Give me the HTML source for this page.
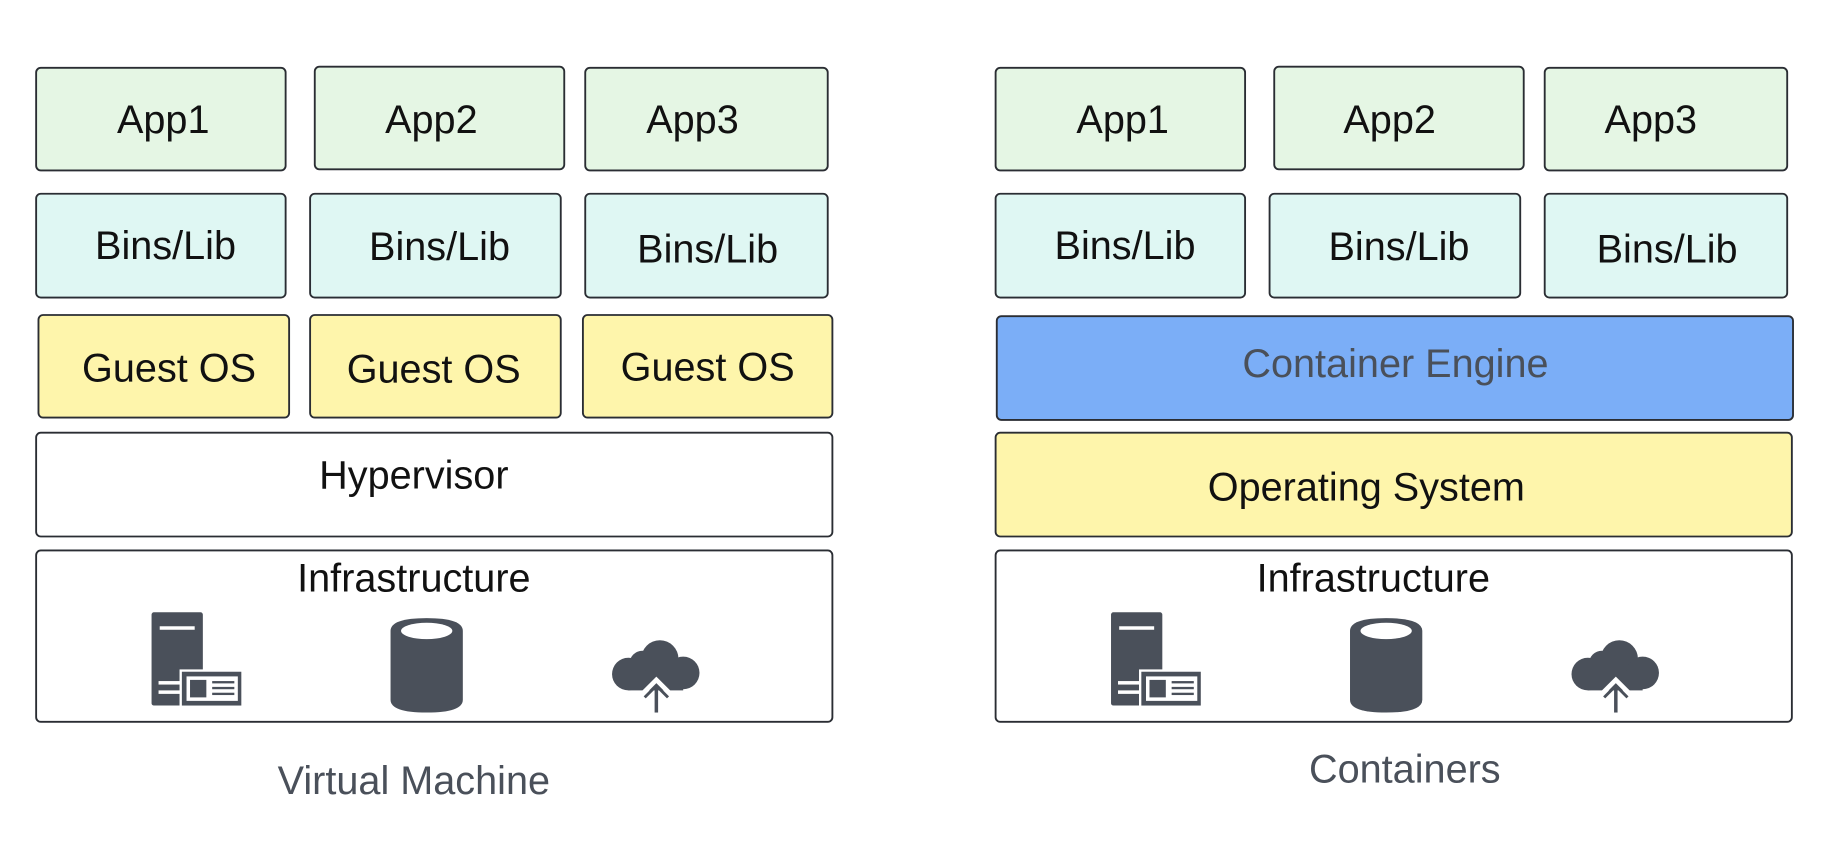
<!DOCTYPE html>
<html><head><meta charset="utf-8"><style>
html,body{margin:0;padding:0;background:#fff;width:1828px;height:848px;overflow:hidden}
svg{display:block}
text{font-family:"Liberation Sans",sans-serif;font-size:34px;text-anchor:middle}
</style></head><body>
<svg width="1828" height="848" viewBox="0 0 1568 727" xmlns="http://www.w3.org/2000/svg">
<defs>
<g id="icons" fill="#4a505a">
  <rect x="130" y="525" width="44" height="80" rx="2"/>
  <rect x="137" y="537" width="30" height="3" fill="#fff"/>
  <rect x="136" y="584" width="20" height="3" fill="#fff"/>
  <rect x="136" y="592" width="20" height="3" fill="#fff"/>
  <rect x="154" y="574" width="54" height="32" fill="#fff"/>
  <rect x="156" y="576" width="51" height="29"/>
  <rect x="160" y="580" width="44" height="21" fill="#fff"/>
  <rect x="163" y="583" width="14" height="15"/>
  <rect x="182" y="584" width="19" height="2"/>
  <rect x="182" y="589" width="19" height="2"/>
  <rect x="182" y="594" width="19" height="2"/>
  <path d="M335 541 Q335 530 366 530 Q397 530 397 541 L397 600 Q397 611 366 611 Q335 611 335 600 Z"/>
  <ellipse cx="366" cy="541" rx="22" ry="7" fill="#fff"/>
  <circle cx="539" cy="578" r="14"/>
  <circle cx="551" cy="569" r="11"/>
  <circle cx="566" cy="565" r="16"/>
  <circle cx="586" cy="577" r="14"/>
  <rect x="539" y="575" width="47" height="17"/>
  <path d="M550 596 L563 583 L576 596" fill="none" stroke="#fff" stroke-width="4"/>
  <path d="M553 598 L563 588 L573 598" fill="none" stroke="#4a505a" stroke-width="2.5"/>
  <rect x="561.5" y="590" width="3" height="21"/>
</g>
</defs>
<g stroke="#2a2d33" stroke-width="1.6">
  <rect x="31" y="58" width="214" height="88" rx="4" fill="#e5f6e4"/>
  <rect x="270" y="57" width="214" height="88" rx="4" fill="#e5f6e4"/>
  <rect x="502" y="58" width="208" height="88" rx="4" fill="#e5f6e4"/>
  <rect x="31" y="166" width="214" height="89" rx="4" fill="#dff7f3"/>
  <rect x="266" y="166" width="215" height="89" rx="4" fill="#dff7f3"/>
  <rect x="502" y="166" width="208" height="89" rx="4" fill="#dff7f3"/>
  <rect x="33" y="270" width="215" height="88" rx="4" fill="#fef5ab"/>
  <rect x="266" y="270" width="215" height="88" rx="4" fill="#fef5ab"/>
  <rect x="500" y="270" width="214" height="88" rx="4" fill="#fef5ab"/>
  <rect x="31" y="371" width="683" height="89" rx="4" fill="#fff"/>
  <rect x="31" y="472" width="683" height="147" rx="4" fill="#fff"/>
  <rect x="854" y="58" width="214" height="88" rx="4" fill="#e5f6e4"/>
  <rect x="1093" y="57" width="214" height="88" rx="4" fill="#e5f6e4"/>
  <rect x="1325" y="58" width="208" height="88" rx="4" fill="#e5f6e4"/>
  <rect x="854" y="166" width="214" height="89" rx="4" fill="#dff7f3"/>
  <rect x="1089" y="166" width="215" height="89" rx="4" fill="#dff7f3"/>
  <rect x="1325" y="166" width="208" height="89" rx="4" fill="#dff7f3"/>
  <rect x="855" y="271" width="683" height="89" rx="4" fill="#7baef7"/>
  <rect x="854" y="371" width="683" height="89" rx="4" fill="#fef5ab"/>
  <rect x="854" y="472" width="683" height="147" rx="4" fill="#fff"/>
</g>
<use href="#icons"/>
<use href="#icons" transform="translate(823,0)"/>
<g fill="#111">
  <text x="140" y="114">App1</text>
  <text x="370" y="114">App2</text>
  <text x="594" y="114">App3</text>
  <text x="142" y="222">Bins/Lib</text>
  <text x="377" y="223">Bins/Lib</text>
  <text x="607" y="225">Bins/Lib</text>
  <text x="145" y="327">Guest OS</text>
  <text x="372" y="328">Guest OS</text>
  <text x="607" y="326">Guest OS</text>
  <text x="355" y="419">Hypervisor</text>
  <text x="355" y="507">Infrastructure</text>
  <text x="963" y="114">App1</text>
  <text x="1192" y="114">App2</text>
  <text x="1416" y="114">App3</text>
  <text x="965" y="222">Bins/Lib</text>
  <text x="1200" y="223">Bins/Lib</text>
  <text x="1430" y="225">Bins/Lib</text>
  <text x="1172" y="429">Operating System</text>
  <text x="1178" y="507">Infrastructure</text>
</g>
<g fill="#4a505a">
  <text x="1197" y="323">Container Engine</text>
  <text x="355" y="681">Virtual Machine</text>
  <text x="1205" y="671">Containers</text>
</g>
</svg>
</body></html>
